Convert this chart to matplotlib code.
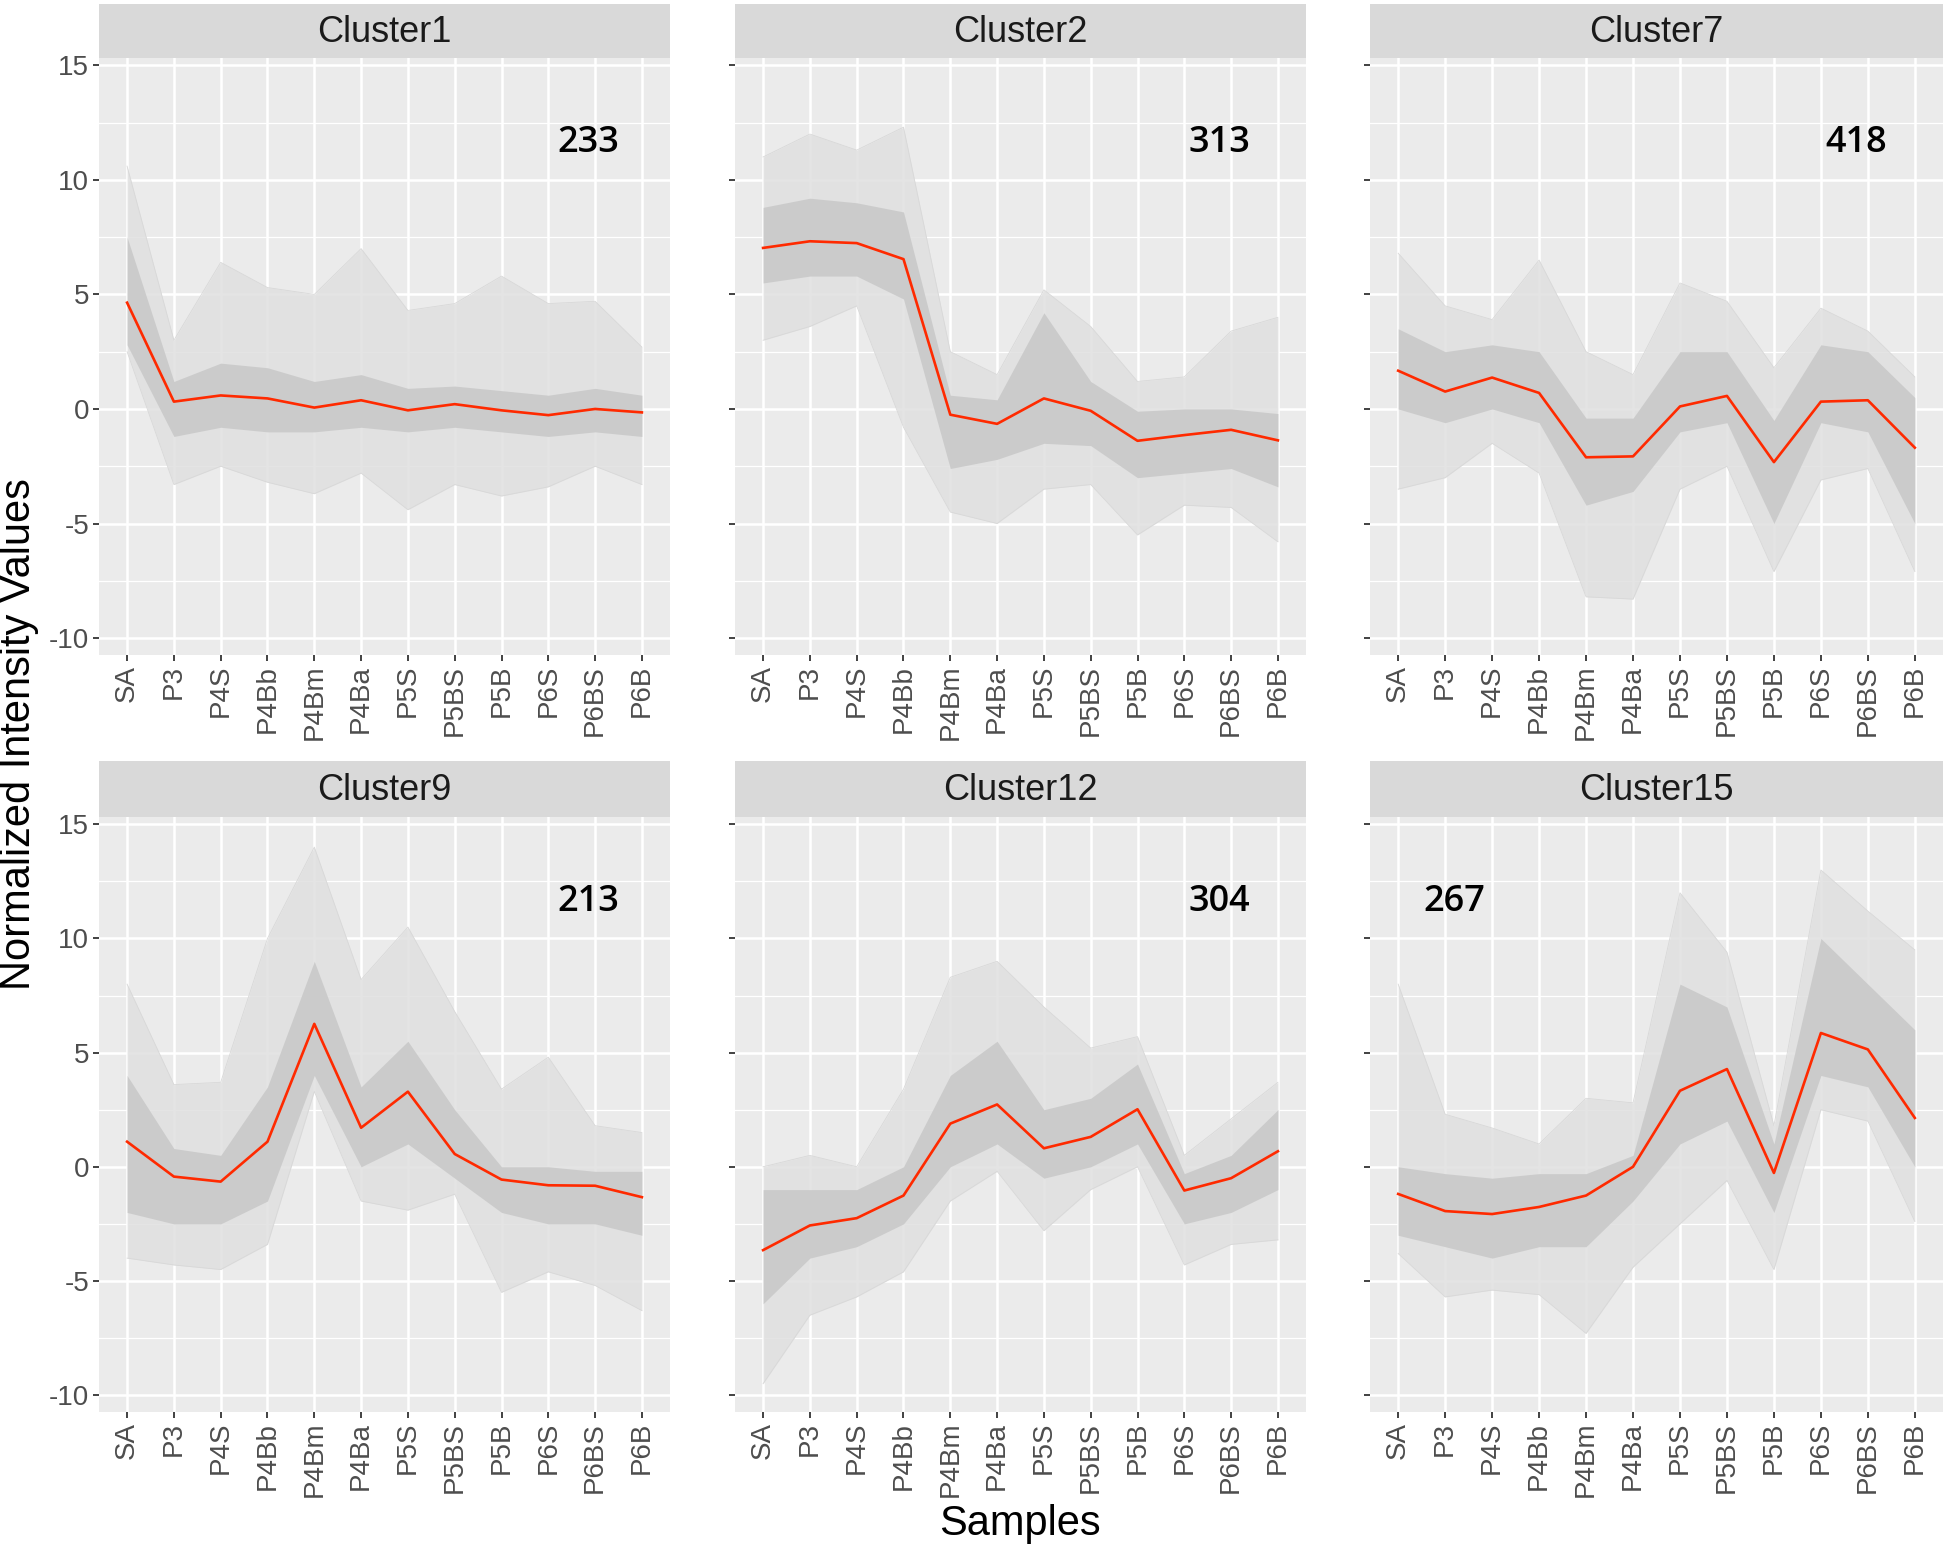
import matplotlib
matplotlib.use("Agg")
import matplotlib.pyplot as plt
import numpy as np

samples = ["SA", "P3", "P4S", "P4Bb", "P4Bm", "P4Ba", "P5S", "P5BS", "P5B", "P6S", "P6BS", "P6B"]
clusters = ["Cluster1", "Cluster2", "Cluster7", "Cluster9", "Cluster12", "Cluster15"]
counts = ["233", "313", "418", "213", "304", "267"]

# red mean profiles
mean_c1 = [4.64, 0.32, 0.59, 0.46, 0.06, 0.38, -0.06, 0.21, -0.06, -0.27, 0.0, -0.15]
mean_c2 = [7.03, 7.32, 7.24, 6.54, -0.25, -0.65, 0.46, -0.08, -1.39, -1.14, -0.91, -1.37]
mean_c7 = [1.67, 0.76, 1.37, 0.70, -2.11, -2.07, 0.11, 0.57, -2.32, 0.32, 0.38, -1.69]
mean_c9 = [1.10, -0.43, -0.65, 1.10, 6.26, 1.71, 3.29, 0.56, -0.56, -0.81, -0.83, -1.33]
mean_c12 = [-3.65, -2.57, -2.25, -1.26, 1.89, 2.73, 0.81, 1.31, 2.52, -1.04, -0.50, 0.68]
mean_c15 = [-1.19, -1.94, -2.07, -1.76, -1.26, 0.0, 3.33, 4.28, -0.27, 5.86, 5.14, 2.14]

# gray profile envelopes: faint extremes (min/max) and dense core (low/high)
max_c1 = [10.6, 3.0, 6.4, 5.3, 5.0, 7.0, 4.3, 4.6, 5.8, 4.6, 4.7, 2.7]
min_c1 = [2.5, -3.3, -2.5, -3.2, -3.7, -2.8, -4.4, -3.3, -3.8, -3.4, -2.5, -3.3]
hi_c1 = [7.5, 1.2, 2.0, 1.8, 1.2, 1.5, 0.9, 1.0, 0.8, 0.6, 0.9, 0.6]
lo_c1 = [2.8, -1.2, -0.8, -1.0, -1.0, -0.8, -1.0, -0.8, -1.0, -1.2, -1.0, -1.2]

max_c2 = [11.0, 12.0, 11.3, 12.3, 2.5, 1.5, 5.2, 3.6, 1.2, 1.4, 3.4, 4.0]
min_c2 = [3.0, 3.6, 4.5, -0.8, -4.5, -5.0, -3.5, -3.3, -5.5, -4.2, -4.3, -5.8]
hi_c2 = [8.8, 9.2, 9.0, 8.6, 0.6, 0.4, 4.2, 1.2, -0.1, 0.0, 0.0, -0.2]
lo_c2 = [5.5, 5.8, 5.8, 4.8, -2.6, -2.2, -1.5, -1.6, -3.0, -2.8, -2.6, -3.4]

max_c7 = [6.8, 4.5, 3.9, 6.5, 2.5, 1.5, 5.5, 4.7, 1.8, 4.4, 3.4, 1.4]
min_c7 = [-3.5, -3.0, -1.5, -2.8, -8.2, -8.3, -3.5, -2.5, -7.1, -3.1, -2.6, -7.1]
hi_c7 = [3.5, 2.5, 2.8, 2.5, -0.4, -0.4, 2.5, 2.5, -0.5, 2.8, 2.5, 0.5]
lo_c7 = [0.0, -0.6, 0.0, -0.6, -4.2, -3.6, -1.0, -0.6, -5.0, -0.6, -1.0, -5.0]

max_c9 = [8.0, 3.6, 3.7, 10.0, 14.0, 8.2, 10.5, 6.8, 3.4, 4.8, 1.8, 1.5]
min_c9 = [-4.0, -4.3, -4.5, -3.4, 3.3, -1.5, -1.9, -1.2, -5.5, -4.6, -5.2, -6.3]
hi_c9 = [4.0, 0.8, 0.5, 3.5, 9.0, 3.5, 5.5, 2.5, 0.0, 0.0, -0.2, -0.2]
lo_c9 = [-2.0, -2.5, -2.5, -1.5, 4.0, 0.0, 1.0, -0.5, -2.0, -2.5, -2.5, -3.0]

max_c12 = [0.0, 0.5, 0.0, 3.4, 8.3, 9.0, 7.0, 5.2, 5.7, 0.5, 2.1, 3.7]
min_c12 = [-9.5, -6.5, -5.7, -4.6, -1.5, -0.2, -2.8, -1.0, 0.0, -4.3, -3.4, -3.2]
hi_c12 = [-1.0, -1.0, -1.0, 0.0, 4.0, 5.5, 2.5, 3.0, 4.5, -0.3, 0.5, 2.5]
lo_c12 = [-6.0, -4.0, -3.5, -2.5, 0.0, 1.0, -0.5, 0.0, 1.0, -2.5, -2.0, -1.0]

max_c15 = [8.0, 2.3, 1.7, 1.0, 3.0, 2.8, 12.0, 9.4, 1.8, 13.0, 11.2, 9.5]
min_c15 = [-3.8, -5.7, -5.4, -5.6, -7.3, -4.4, -2.5, -0.6, -4.5, 2.5, 2.0, -2.4]
hi_c15 = [0.0, -0.3, -0.5, -0.3, -0.3, 0.5, 8.0, 7.0, 1.0, 10.0, 8.0, 6.0]
lo_c15 = [-3.0, -3.5, -4.0, -3.5, -3.5, -1.5, 1.0, 2.0, -2.0, 4.0, 3.5, 0.0]

means = [mean_c1, mean_c2, mean_c7, mean_c9, mean_c12, mean_c15]
maxs = [max_c1, max_c2, max_c7, max_c9, max_c12, max_c15]
mins = [min_c1, min_c2, min_c7, min_c9, min_c12, min_c15]
his = [hi_c1, hi_c2, hi_c7, hi_c9, hi_c12, hi_c15]
los = [lo_c1, lo_c2, lo_c7, lo_c9, lo_c12, lo_c15]
count_x = [9.85, 9.75, 9.75, 9.85, 9.75, 1.2]

FONT = "Liberation Sans"
W, H = 1946, 1550
fig = plt.figure(figsize=(W / 100, H / 100), dpi=100)
fig.patch.set_facecolor("white")

col_x = [(99, 670), (735, 1306), (1370, 1943)]
row_y = [(4, 58, 655), (761, 817, 1412)]

x = np.arange(len(samples))
for i in range(6):
    r, c = divmod(i, 3)
    x0, x1 = col_x[c]
    s_top, p_top, p_bot = row_y[r]
    ax = fig.add_axes([x0 / W, 1 - p_bot / H, (x1 - x0) / W, (p_bot - p_top) / H])
    sax = fig.add_axes([x0 / W, 1 - p_top / H, (x1 - x0) / W, (p_top - s_top) / H])
    sax.set_facecolor("#d9d9d9")
    sax.set_xticks([]); sax.set_yticks([])
    for sp in sax.spines.values():
        sp.set_visible(False)
    sax.text(0.5, 0.47, clusters[i], ha="center", va="center", fontsize=26,
             color="#1a1a1a", family=FONT, transform=sax.transAxes)

    ax.set_facecolor("#ebebeb")
    for sp in ax.spines.values():
        sp.set_visible(False)
    ax.set_xlim(-0.6, 11.6)
    ax.set_ylim(-10.74, 15.32)
    for yv in [-7.5, -2.5, 2.5, 7.5, 12.5]:
        ax.axhline(yv, color="white", lw=0.9, zorder=0.5)
    for yv in [-10, -5, 0, 5, 10, 15]:
        ax.axhline(yv, color="white", lw=1.8, zorder=0.6)
    for xv in x:
        ax.axvline(xv, color="white", lw=1.8, zorder=0.6)

    ax.fill_between(x, mins[i], maxs[i], color="#e0e0e0", lw=0, zorder=1, alpha=0.85)
    ax.plot(x, maxs[i], color="#d8d8d8", lw=0.6, zorder=1.1)
    ax.plot(x, mins[i], color="#d8d8d8", lw=0.6, zorder=1.1)
    ax.fill_between(x, los[i], his[i], color="#c9c9c9", lw=0, zorder=1.2, alpha=0.9)
    ax.plot(x, means[i], color="#ff2a00", lw=1.9, zorder=3)

    ax.text(count_x[i], 11.6, counts[i], ha="center", va="center", fontsize=26,
            fontweight="semibold", family="Open Sans", color="black", zorder=4)

    ax.set_xticks(x)
    ax.set_xticklabels(samples, rotation=90, fontsize=20, color="#4d4d4d", family=FONT)
    ax.set_yticks([-10, -5, 0, 5, 10, 15])
    if c == 0:
        ax.set_yticklabels(["-10", "-5", "0", "5", "10", "15"], fontsize=20,
                           color="#4d4d4d", family=FONT)
    else:
        ax.set_yticklabels([])
    ax.tick_params(axis="both", length=4, width=1.3, color="#333333", pad=3)

fig.text(19 / W, 1 - 734 / H, "Normalized Intensity Values", rotation=90, ha="center",
         va="center", fontsize=30, family=FONT, color="black")
fig.text(1020 / W, 1 - 1524 / H, "Samples", ha="center", va="center", fontsize=30,
         family=FONT, color="black")

fig.savefig("out.png", dpi=100, facecolor="white")
